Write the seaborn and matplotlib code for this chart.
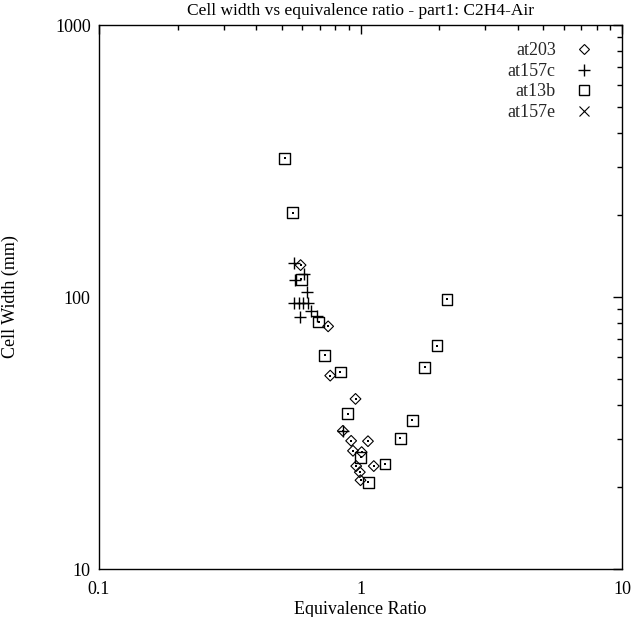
import numpy as np
import pandas as pd
import matplotlib
matplotlib.use("Agg")
import matplotlib.pyplot as plt
import seaborn as sns
from matplotlib.ticker import FixedLocator, FixedFormatter, NullFormatter, LogLocator
from matplotlib.lines import Line2D

sns.set_theme(style="white")
plt.rcParams['font.family'] = ['Liberation Serif', 'DejaVu Serif']

# data
at203_phi = [0.59, 0.752, 0.766, 0.957, 0.856, 0.921, 1.068, 0.936, 1.01, 0.963, 1.124, 0.994, 1.0]
at203_w = [131, 78, 51.4, 42.2, 32.2, 29.6, 29.5, 27.2, 26.9, 23.9, 23.9, 22.7, 21.2]

at157c_phi = [0.556, 0.607, 0.564, 0.623, 0.559, 0.582, 0.605, 0.630, 0.645, 0.681, 0.586, 0.856]
at157c_w = [133, 122, 115, 104, 95.1, 95.1, 95.1, 95.1, 89.2, 85.4, 84.2, 32.2]

at13b_phi = [0.513, 0.551, 0.593, 0.693, 0.730, 0.836, 0.894, 1.0, 1.07, 1.24, 1.42, 1.58, 1.76, 1.96, 2.14]
at13b_w = [324, 204, 116, 81, 61, 53, 37.2, 25.7, 20.8, 24.3, 30.2, 35.2, 55.1, 66.3, 98]

at157e_phi = []
at157e_w = []

x_ticks = [0.1, 1, 10]
x_labels = ["0.1", "1", "10"]
y_ticks = [10, 100, 1000]
y_labels = ["10", "100", "1000"]

fig = plt.figure(figsize=(6.31, 6.17), dpi=100)
ax = fig.add_axes([99 / 631, 1 - 569 / 617, 523 / 631, 544 / 617])

d203 = pd.DataFrame({'phi': at203_phi, 'w': at203_w})
d157c = pd.DataFrame({'phi': at157c_phi, 'w': at157c_w})
d13b = pd.DataFrame({'phi': at13b_phi, 'w': at13b_w})

sns.scatterplot(data=d203, x='phi', y='w', marker='D', s=30, facecolors='none',
                edgecolor='black', linewidth=0.8, ax=ax)
sns.scatterplot(data=d203, x='phi', y='w', marker='s', s=1, color='black',
                linewidth=0, ax=ax)
sns.scatterplot(data=d157c, x='phi', y='w', marker='+', s=80, color='black',
                linewidth=1.0, ax=ax)
sns.scatterplot(data=d13b, x='phi', y='w', marker='s', s=60, facecolors='none',
                edgecolor='black', linewidth=1.0, ax=ax)
sns.scatterplot(data=d13b, x='phi', y='w', marker='s', s=1.5, color='black',
                linewidth=0, ax=ax)

ax.set_xscale('log')
ax.set_yscale('log')
ax.set_xlim(0.1, 10)
ax.set_ylim(10, 1000)

ax.xaxis.set_major_locator(FixedLocator(x_ticks))
ax.xaxis.set_major_formatter(FixedFormatter(x_labels))
ax.yaxis.set_major_locator(FixedLocator(y_ticks))
ax.yaxis.set_major_formatter(FixedFormatter(y_labels))
ax.xaxis.set_minor_locator(LogLocator(base=10, subs=np.arange(2, 10)))
ax.yaxis.set_minor_locator(LogLocator(base=10, subs=np.arange(2, 10)))
ax.xaxis.set_minor_formatter(NullFormatter())
ax.yaxis.set_minor_formatter(NullFormatter())

ax.tick_params(which='both', direction='in', top=True, right=True,
               color='black', width=1, labelsize=13, labelcolor='black')
ax.tick_params(which='major', length=6.5)
ax.tick_params(axis='x', which='major', pad=9)
ax.tick_params(axis='y', which='major', pad=6)
ax.tick_params(which='minor', length=3.5)
for s in ax.spines.values():
    s.set_color('black')
    s.set_linewidth(1)
ax.grid(False)

ax.set_xlabel('Equivalence Ratio', fontsize=13, color='black', labelpad=2)
ax.set_ylabel('Cell Width (mm)', fontsize=13, color='black', labelpad=26)
ax.set_title('Cell width vs equivalence ratio - part1: C2H4-Air', fontsize=12.5,
             color='black', pad=7)

handles = [
    Line2D([], [], linestyle='none', marker='D', markersize=5, markerfacecolor='none',
           markeredgecolor='black', markeredgewidth=0.8),
    Line2D([], [], linestyle='none', marker='+', markersize=9, color='black',
           markeredgewidth=1.0),
    Line2D([], [], linestyle='none', marker='s', markersize=7.5, markerfacecolor='none',
           markeredgecolor='black', markeredgewidth=1.0),
    Line2D([], [], linestyle='none', marker='x', markersize=7, color='black',
           markeredgewidth=0.8),
]
ax.legend(handles, ['at203', 'at157c', 'at13b', 'at157e'], loc='upper right',
          bbox_to_anchor=(1 - 22 / 523, 1 - 10 / 544), borderaxespad=0,
          frameon=False, markerfirst=False, fontsize=13, handlelength=1.0,
          handletextpad=1.05, labelspacing=0.2)

fig.savefig('out.png', dpi=100)
